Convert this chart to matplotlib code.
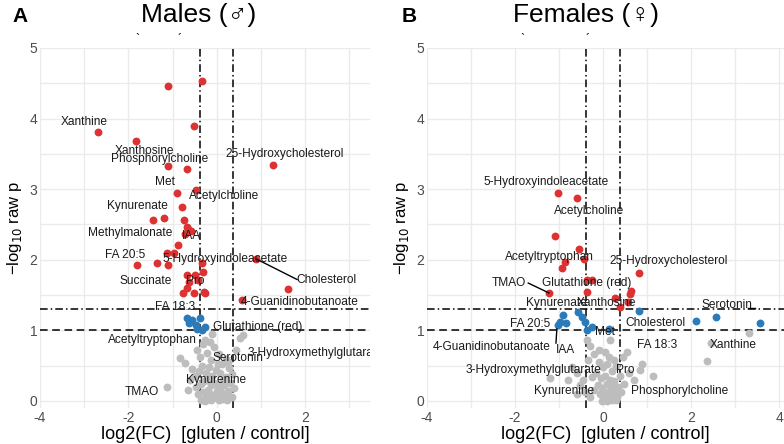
import matplotlib
matplotlib.use("Agg")
import matplotlib.pyplot as plt
import numpy as np

# ---------------- data ----------------
# Males
m_red_x = [-0.34, -1.11, -0.52, -2.69, -1.83, -1.11, -0.68, 1.27, -0.48, -0.90, -0.79, -1.45, -1.20,
           -0.75, -0.68, -0.66, -0.59, -0.72, -0.88, -1.13, -0.97, -1.36, -1.11, -1.81, -0.32, -0.68,
           -0.50, -0.43, -0.63, -0.68, -0.77, -0.52, -0.27, -0.34, -0.29, 0.90, 1.61, 0.57]
m_red_y = [4.53, 4.46, 3.90, 3.81, 3.68, 3.33, 3.29, 3.34, 2.99, 2.95, 2.75, 2.56, 2.59,
           2.56, 2.47, 2.44, 2.41, 2.37, 2.21, 2.10, 2.10, 1.95, 1.93, 1.93, 1.83, 1.79,
           1.79, 1.71, 1.69, 1.60, 1.53, 1.53, 1.53, 1.95, 1.55, 2.01, 1.59, 1.43]
m_blue_x = [-0.68, -0.57, -0.38, -0.48, -0.45, -0.27, -0.34, -0.62]
m_blue_y = [1.17, 1.14, 1.17, 1.07, 1.02, 1.05, 1.01, 1.10]
m_gray_x = [-1.13, -0.84, -0.72, -0.27, -0.16, 0.52, 0.59, 0.44, -0.55, -0.45, -0.38, -0.30, -0.22,
            -0.12, -0.05, 0.05, 0.12, 0.20, 0.28, 0.35, -0.60, -0.50, -0.40, -0.33, -0.25, -0.18,
            -0.10, -0.02, 0.08, 0.15, 0.22, 0.30, 0.40, -0.48, -0.36, -0.28, -0.20, -0.14, -0.06,
            0.02, 0.10, 0.18, 0.26, 0.34, -0.42, -0.32, -0.24, -0.16, -0.08, 0.00, 0.06, 0.14,
            0.24, -0.35, -0.26, -0.12, 0.04, 0.16, -0.20, -0.04, 0.10, -0.65, 0.25, -0.10, 0.02]
m_gray_y = [0.20, 0.61, 0.54, 0.86, 0.84, 0.89, 0.93, 0.72, 0.45, 0.72, 0.62, 0.80, 0.68,
            0.58, 0.76, 0.66, 0.52, 0.60, 0.46, 0.38, 0.30, 0.35, 0.42, 0.50, 0.40, 0.48,
            0.36, 0.44, 0.40, 0.30, 0.34, 0.26, 0.18, 0.20, 0.24, 0.28, 0.16, 0.22, 0.26,
            0.20, 0.12, 0.08, 0.14, 0.06, 0.10, 0.12, 0.06, 0.10, 0.04, 0.14, 0.02, 0.03,
            0.02, 0.02, 0.00, 0.01, 0.06, 0.22, 0.30, 0.08, 0.24, 0.15, 0.55, 0.95, 0.52]

# Females
f_red_x = [-1.02, -0.59, -1.09, -0.55, -0.43, -0.86, -0.93, -0.36, -0.25, -1.23, -0.36,
           0.82, 0.64, 0.27, 0.57, 0.39, 0.61]
f_red_y = [2.95, 2.87, 2.34, 2.15, 2.01, 1.97, 1.88, 1.71, 1.71, 1.53, 1.54,
           1.81, 1.56, 1.46, 1.40, 1.33, 1.52]
f_blue_x = [-0.91, -0.98, -0.84, -1.02, -0.57, -0.48, -0.41, -0.36, -0.25, 0.82, 2.11, 2.57, 3.57, 0.14]
f_blue_y = [1.22, 1.12, 1.11, 1.07, 1.26, 1.19, 1.12, 1.00, 1.05, 1.28, 1.13, 1.19, 1.10, 1.02]
f_gray_x = [3.32, 2.45, 2.36, 0.55, 0.88, 1.14, 0.84, 0.16, -0.36, -0.59, -0.30, 0.45, -0.20,
            -0.10, 0.00, 0.10, 0.20, 0.30, 0.38, -0.45, -0.52, -0.70, -0.80, -0.40, -0.25,
            -0.15, -0.05, 0.05, 0.15, 0.25, 0.35, -0.12, -0.02, 0.08, 0.18, 0.28, -0.08,
            0.02, 0.12, 0.22, 0.32, 0.40, 0.48, 0.60, -0.30, -0.20, 0.06, 0.16, 0.26, -0.02,
            0.10, 0.20, 0.30, -0.60, 0.70, -0.35, -1.20, 0.04, 0.14, 0.24, -0.10]
f_gray_y = [0.96, 0.82, 0.57, 0.69, 0.52, 0.35, 0.44, 0.86, 0.86, 0.40, 0.78, 0.62, 0.66,
            0.55, 0.48, 0.52, 0.42, 0.50, 0.36, 0.30, 0.22, 0.48, 0.30, 0.12, 0.34,
            0.40, 0.32, 0.36, 0.30, 0.28, 0.20, 0.22, 0.18, 0.24, 0.20, 0.14, 0.10,
            0.08, 0.12, 0.10, 0.06, 0.12, 0.24, 0.40, 0.05, 0.16, 0.02, 0.04, 0.03, 0.00,
            0.00, 0.01, 0.02, 0.10, 0.30, 0.58, 0.32, 0.70, 0.62, 0.58, 0.72]

# labels: (text, x, y)
m_labels = [
    ("Xanthine", -2.99, 3.95), ("Xanthosine", -1.63, 3.54), ("Phosphorylcholine", -1.29, 3.43),
    ("Met", -1.18, 3.10), ("Acetylcholine", 0.16, 2.90), ("Kynurenate", -1.79, 2.76),
    ("Methylmalonate", -1.95, 2.38), ("IAA", -0.57, 2.34), ("FA 20:5", -2.08, 2.07),
    ("5-Hydroxyindoleacetate", 0.18, 2.01), ("Cholesterol", 2.49, 1.71), ("Succinate", -1.61, 1.70),
    ("Pro", -0.48, 1.70), ("4-Guanidinobutanoate", 1.88, 1.40), ("FA 18:3", -0.95, 1.33),
    ("Glutathione (red)", 0.93, 1.05), ("Acetyltryptophan", -1.45, 0.86),
    ("Serotonin", 0.48, 0.61), ("Kynurenine", -0.02, 0.30), ("TMAO", -1.70, 0.13),
    ("25-Hydroxycholesterol", 1.54, 3.50),
]
m_clip_label = ("3-Hydroxymethylglutarate", 0.70, 0.68)
f_labels = [
    ("5-Hydroxyindoleacetate", -1.30, 3.10), ("Acetylcholine", -0.32, 2.69),
    ("Acetyltryptophan", -1.22, 2.04), ("TMAO", -2.14, 1.67), ("Glutathione (red)", -0.37, 1.67),
    ("25-Hydroxycholesterol", 1.50, 1.98), ("Kynurenate", -1.07, 1.39), ("Xanthosine", 0.07, 1.39),
    ("Serotonin", 2.82, 1.36), ("FA 20:5", -1.66, 1.09), ("Cholesterol", 1.18, 1.10),
    ("Met", 0.05, 0.98), ("4-Guanidinobutanoate", -2.52, 0.77), ("IAA", -0.86, 0.72),
    ("FA 18:3", 1.23, 0.79), ("Xanthine", 2.95, 0.79), ("3-Hydroxymethylglutarate", -1.59, 0.44),
    ("Pro", 0.50, 0.44), ("Kynurenine", -0.89, 0.14), ("Phosphorylcholine", 1.75, 0.14),
]
m_segments = [((0.90, 2.01), (1.82, 1.72))]
f_segments = [((-1.70, 1.67), (-1.23, 1.53)), ((-1.05, 1.02), (-1.07, 0.82)),
              ((3.30, 1.31), (3.45, 1.31))]

fc_thr = np.log2(1.3)
p_thr = [-np.log10(0.05), -np.log10(0.1)]

RED = "#DC3232"
BLUE = "#2B7BBA"
GRAY = "#BDBDBD"
GRID = "#EBEBEB"
TICKC = "#4D4D4D"
NARROW = ["Liberation Sans Narrow", "Liberation Sans", "DejaVu Sans"]
SANS = ["Liberation Sans", "DejaVu Sans"]

fig = plt.figure(figsize=(7.84, 4.44), dpi=100)
axL = fig.add_axes([40/784, 1-408/444, 330/784, 360/444])
axR = fig.add_axes([427/784, 1-408/444, 357/784, 360/444])


def style(ax, xlim, xticks):
    ax.set_xlim(*xlim)
    ax.set_ylim(-0.1, 5.0)
    for s in ax.spines.values():
        s.set_visible(False)
    for gx in range(-4, 5):
        ax.axvline(gx, color=GRID, lw=1.0, zorder=0)
    for gy in np.arange(0, 5.01, 0.5):
        ax.axhline(gy, color=GRID, lw=1.0, zorder=0)
    ax.set_xticks(xticks)
    ax.set_xticklabels([str(t) for t in xticks], family=NARROW, fontsize=10, color=TICKC)
    ax.set_yticks([0, 1, 2, 3, 4, 5])
    ax.set_yticklabels(["0", "1", "2", "3", "4", "5"], family=NARROW, fontsize=10, color=TICKC)
    ax.tick_params(length=0, pad=2)
    ax.set_xlabel("log2(FC)  [gluten / control]", family=NARROW, fontsize=13, labelpad=1)
    ax.set_ylabel("\u2212log$_{10}$ raw p", family=SANS, fontsize=12, labelpad=4)
    ax.axvline(-fc_thr, color="black", lw=1.1, ls=(0, (5, 2, 1, 2)), zorder=1)
    ax.axvline(fc_thr, color="black", lw=1.1, ls=(0, (5, 2, 1, 2)), zorder=1)
    ax.axhline(p_thr[0], color="black", lw=1.1, ls=(0, (5, 2, 1, 2)), zorder=1)
    ax.axhline(p_thr[1], color="black", lw=1.1, ls=(0, (5, 3)), zorder=1)


style(axL, (-4.0, 3.47), [-4, -2, 0, 2])
style(axR, (-4.0, 4.11), [-4, -2, 0, 2, 4])

for ax, gx, gy, bx, by, rx, ry in [
    (axL, m_gray_x, m_gray_y, m_blue_x, m_blue_y, m_red_x, m_red_y),
    (axR, f_gray_x, f_gray_y, f_blue_x, f_blue_y, f_red_x, f_red_y),
]:
    ax.scatter(gx, gy, s=32, color=GRAY, linewidths=0, zorder=2)
    ax.scatter(bx, by, s=32, color=BLUE, linewidths=0, zorder=3)
    ax.scatter(rx, ry, s=32, color=RED, linewidths=0, zorder=3)

for ax, labels, segs in [(axL, m_labels, m_segments), (axR, f_labels, f_segments)]:
    for (p0, p1) in segs:
        ax.plot([p0[0], p1[0]], [p0[1], p1[1]], color="black", lw=1.0, zorder=4)
    for t, x, y in labels:
        ax.text(x, y, t, ha="center", va="center", fontsize=8.6, family=SANS,
                color="#1a1a1a", zorder=5)
axL.text(m_clip_label[1], m_clip_label[2], m_clip_label[0], ha="left", va="center",
         fontsize=8.6, family=SANS, color="#1a1a1a", zorder=5, clip_on=True)

# titles and panel letters
fig.text(199/784, 1-15/444, "Males (\u2642)", ha="center", va="center", fontsize=19, family=SANS)
fig.text(586/784, 1-15/444, "Females (\u2640)", ha="center", va="center", fontsize=19, family=SANS)
fig.text(12/784, 1-16/444, "A", ha="left", va="center", fontsize=15, fontweight="bold", family=SANS)
fig.text(402/784, 1-16/444, "B", ha="left", va="center", fontsize=15, fontweight="bold", family=SANS)

# small stray marks above panels
for x0, ch in [(137, "`"), (180, "\u00b4"), (522, "`"), (588, "\u00b4")]:
    fig.text(x0/784, 1-40/444, ch, ha="center", va="center", fontsize=9, family=SANS)

fig.savefig("out.png", dpi=100)
